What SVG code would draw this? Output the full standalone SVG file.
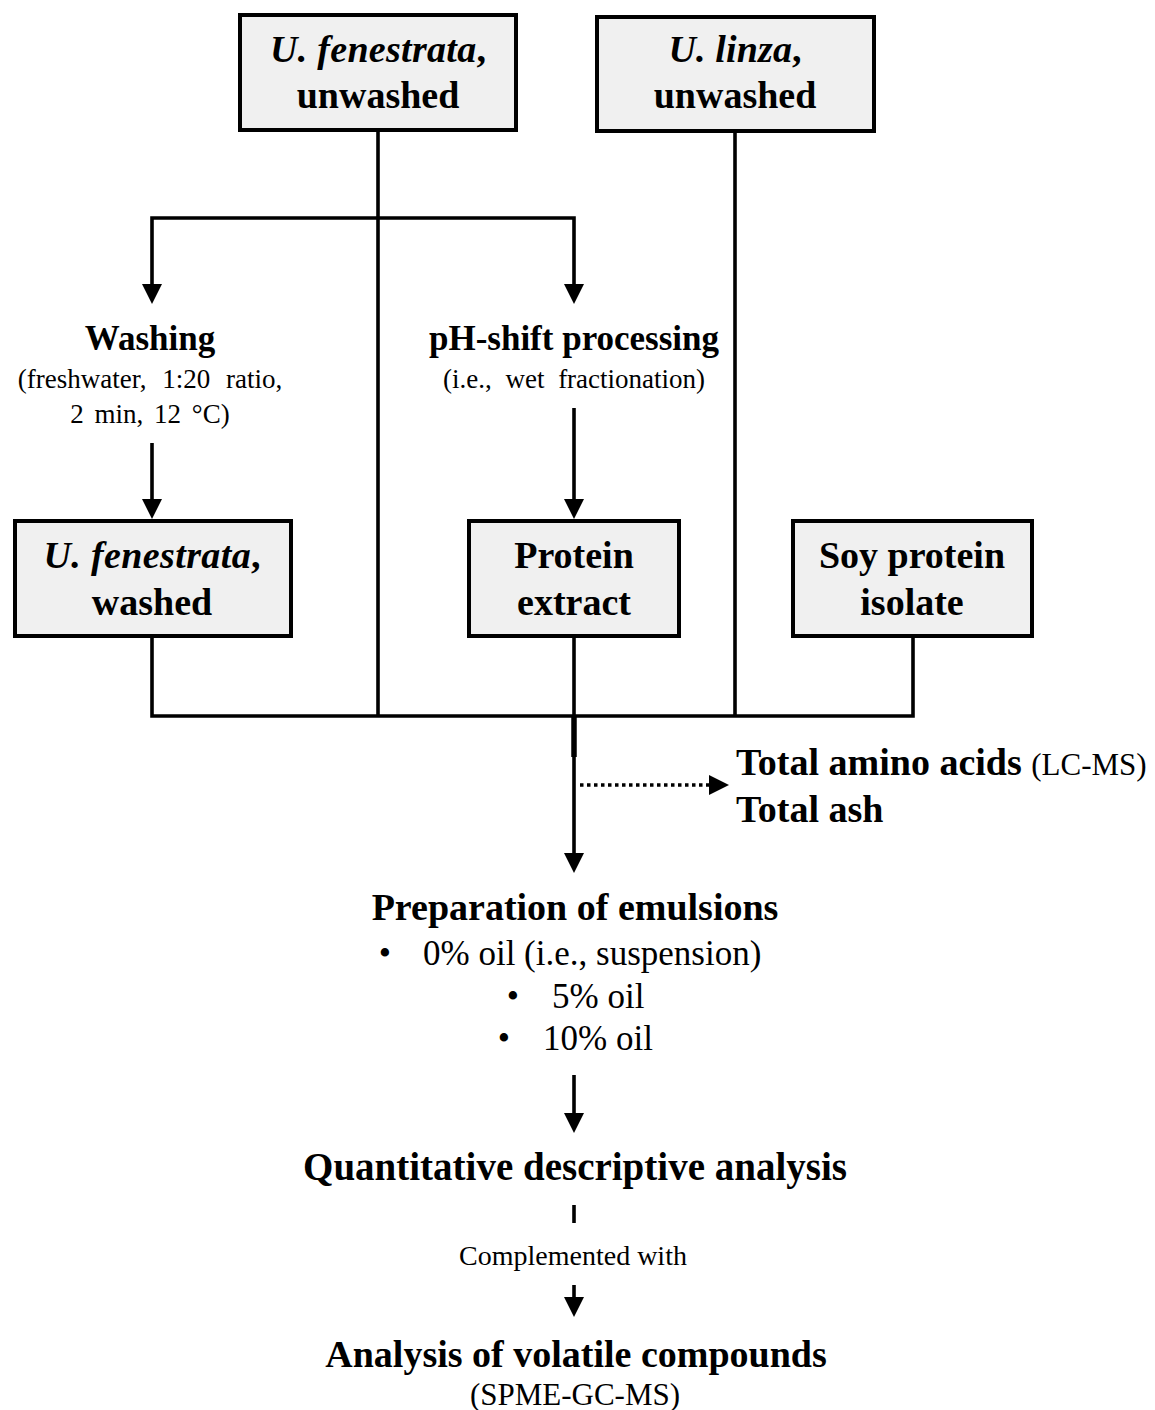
<svg xmlns="http://www.w3.org/2000/svg" width="1155" height="1410" viewBox="0 0 1155 1410">
<style>
  .box{fill:#f0f0f0;stroke:#000;stroke-width:4}
  .t{font-family:"Liberation Serif","Times New Roman",serif;fill:#000}
  .b{font-weight:bold}
  .c{text-anchor:middle}
  .ln{fill:none;stroke:#000;stroke-width:3.6}
  .arr{marker-end:url(#ah)}
  .dot{stroke-dasharray:3.5 3.5}
</style>
<defs>
  <marker id="ah" markerUnits="userSpaceOnUse" markerWidth="20" markerHeight="20" viewBox="0 0 20 20" refX="15" refY="10" orient="auto">
    <path d="M0,0 L20,10 L0,20 z" fill="#000"/>
  </marker>
</defs>
<rect width="1155" height="1410" fill="#fff"/>

<g id="connectors">
  <path class="ln" d="M378,130 V716"/>
  <path class="ln arr" d="M378,218 H152 V299"/>
  <path class="ln arr" d="M378,218 H574 V299"/>
  <path class="ln arr" d="M152,443 V514"/>
  <path class="ln arr" d="M574,408 V514"/>
  <path class="ln" d="M735,131 V716"/>
  <path class="ln" d="M152,636 V716 H913 V636"/>
  <path class="ln arr" d="M574,636 V868"/>
  <path class="ln" style="stroke-width:5.5" d="M574,716 V757"/>
  <path class="ln dot arr" d="M580,785 H724"/>
  <path class="ln arr" d="M574,1075 V1128"/>
  <path class="ln" d="M574,1205 V1223"/>
  <path class="ln arr" d="M574,1285 V1312"/>
</g>

<g id="n-ufen-unwashed">
  <rect class="box" x="240" y="15" width="276" height="115"/>
  <text class="t b c" x="378" y="62" font-size="38" textLength="216"><tspan font-style="italic">U. fenestrata</tspan>,</text>
  <text class="t b c" x="378" y="108" font-size="38">unwashed</text>
</g>

<g id="n-ulinza-unwashed">
  <rect class="box" x="597" y="17" width="277" height="114"/>
  <text class="t b c" x="735" y="62" font-size="38" textLength="133"><tspan font-style="italic">U. linza</tspan>,</text>
  <text class="t b c" x="735" y="108" font-size="38">unwashed</text>
</g>

<g id="n-washing">
  <text class="t b c" x="150" y="350" font-size="35">Washing</text>
  <text class="t c" x="150" y="388" font-size="27" word-spacing="9">(freshwater, 1:20 ratio,</text>
  <text class="t c" x="150" y="423" font-size="27" word-spacing="4">2 min, 12 °C)</text>
</g>

<g id="n-phshift">
  <text class="t b c" x="574" y="350" font-size="35">pH-shift processing</text>
  <text class="t c" x="574" y="388" font-size="27" word-spacing="7">(i.e., wet fractionation)</text>
</g>

<g id="n-ufen-washed">
  <rect class="box" x="15" y="521" width="276" height="115"/>
  <text class="t b c" x="152" y="568" font-size="38" textLength="217"><tspan font-style="italic">U. fenestrata</tspan>,</text>
  <text class="t b c" x="152" y="615" font-size="38">washed</text>
</g>

<g id="n-protein-extract">
  <rect class="box" x="469" y="521" width="210" height="115"/>
  <text class="t b c" x="574" y="568" font-size="38">Protein</text>
  <text class="t b c" x="574" y="615" font-size="38">extract</text>
</g>

<g id="n-soy">
  <rect class="box" x="793" y="521" width="239" height="115"/>
  <text class="t b c" x="912" y="568" font-size="38">Soy protein</text>
  <text class="t b c" x="912" y="615" font-size="38">isolate</text>
</g>

<g id="n-analysis-aa">
  <text class="t b" x="736" y="775" font-size="38">Total amino acids <tspan font-weight="normal" font-size="31">(LC-MS)</tspan></text>
  <text class="t b" x="736" y="822" font-size="38">Total ash</text>
</g>

<g id="n-emulsions">
  <text class="t b c" x="575" y="920" font-size="38">Preparation of emulsions</text>
  <text class="t c" x="385" y="965" font-size="35">•</text>
  <text class="t" x="423" y="965" font-size="35">0% oil (i.e., suspension)</text>
  <text class="t c" x="513" y="1008" font-size="35">•</text>
  <text class="t" x="552" y="1008" font-size="35">5% oil</text>
  <text class="t c" x="504" y="1050" font-size="35">•</text>
  <text class="t" x="543" y="1050" font-size="35">10% oil</text>
</g>

<g id="n-qda">
  <text class="t b c" x="575" y="1180" font-size="39">Quantitative descriptive analysis</text>
  <text class="t c" x="573" y="1265" font-size="28">Complemented with</text>
</g>

<g id="n-volatile">
  <text class="t b c" x="576" y="1367" font-size="38">Analysis of volatile compounds</text>
  <text class="t c" x="575" y="1405" font-size="31">(SPME-GC-MS)</text>
</g>
</svg>
